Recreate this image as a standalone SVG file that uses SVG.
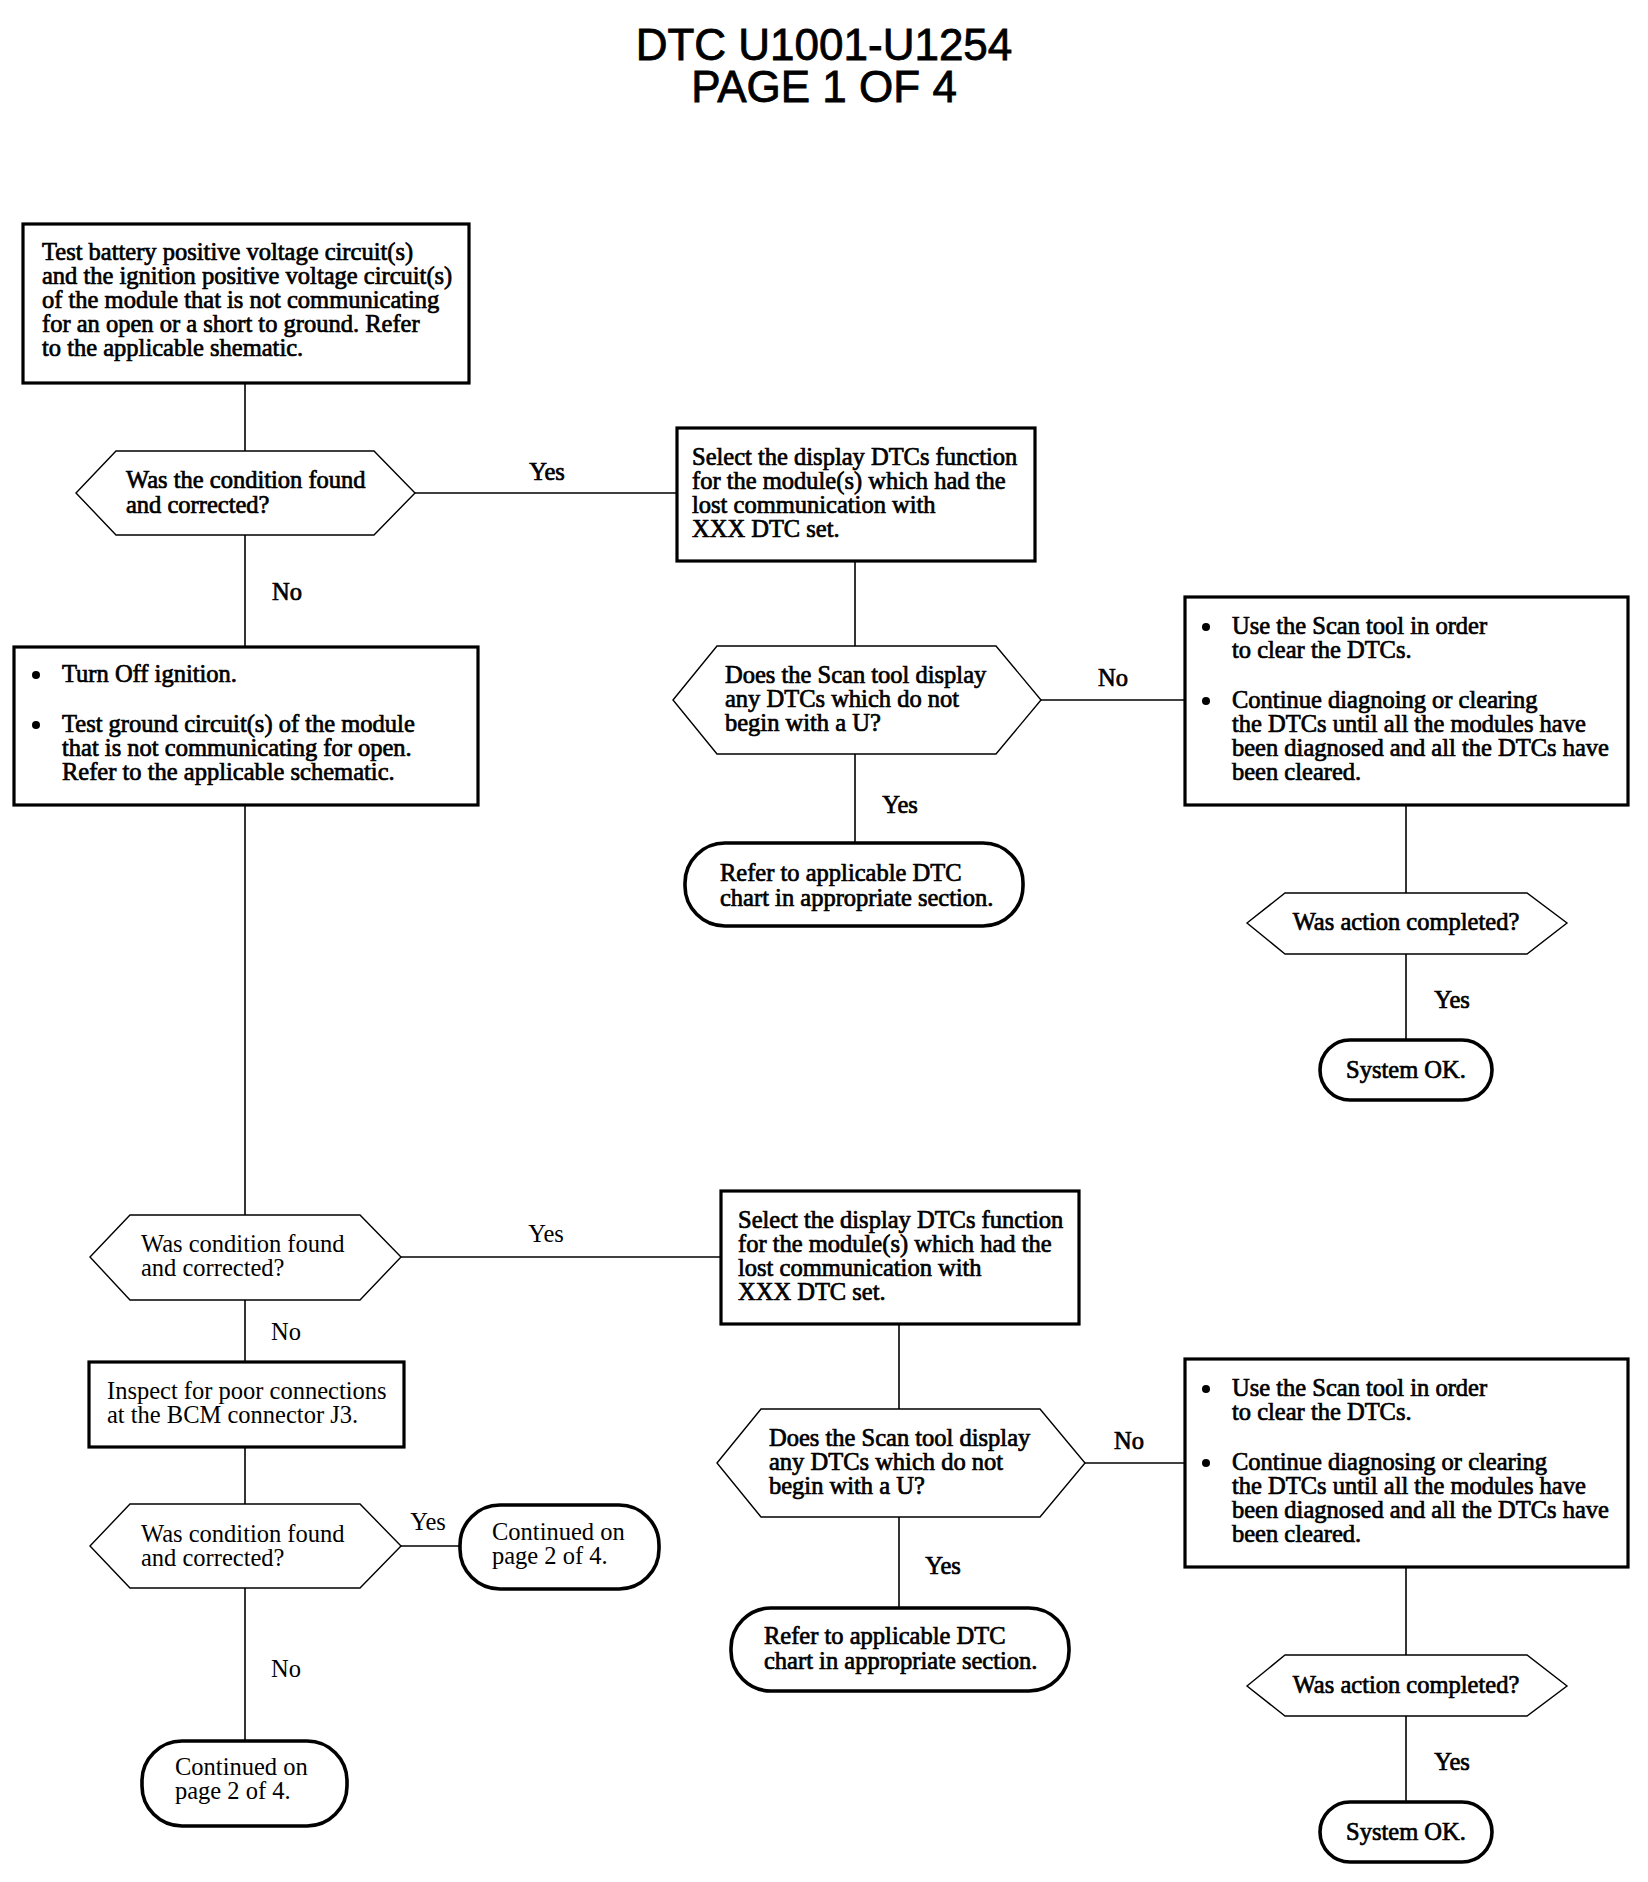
<svg xmlns="http://www.w3.org/2000/svg" width="1648" height="1882" viewBox="0 0 1648 1882">
<style>
  .bg { fill: #fff; }
  .box { fill: #fff; stroke: #000; stroke-width: 3.2; }
  .hex { fill: #fff; stroke: #000; stroke-width: 1.4; }
  .term { fill: #fff; stroke: #000; stroke-width: 3.6; }
  .conn { fill: none; stroke: #000; stroke-width: 1.6; }
  .t { font-family: "Liberation Serif", "Times New Roman", serif; font-size: 24.5px; fill: #000; }
  .h { stroke: #000; stroke-width: 0.7; }
  .c { text-anchor: middle; }
  .title { font-family: "Liberation Sans", Arial, sans-serif; font-size: 44px; fill: #000; stroke: #000; stroke-width: 0.8; text-anchor: middle; }
  .dot { fill: #000; }
</style>
<rect class="bg" x="0" y="0" width="1648" height="1882"/>

<g id="title">
  <text class="title" x="824" y="60">DTC U1001-U1254</text>
  <text class="title" x="824" y="102">PAGE 1 OF 4</text>
</g>

<g id="connectors">
  <line class="conn" x1="245" y1="384" x2="245" y2="451"/>
  <line class="conn" x1="245" y1="535" x2="245" y2="647"/>
  <line class="conn" x1="245" y1="805" x2="245" y2="1215"/>
  <line class="conn" x1="245" y1="1300" x2="245" y2="1362"/>
  <line class="conn" x1="245" y1="1447" x2="245" y2="1504"/>
  <line class="conn" x1="245" y1="1588" x2="245" y2="1743"/>
  <line class="conn" x1="415" y1="493" x2="677" y2="493"/>
  <line class="conn" x1="855" y1="561" x2="855" y2="646"/>
  <line class="conn" x1="855" y1="754" x2="855" y2="843"/>
  <line class="conn" x1="1041" y1="700" x2="1185" y2="700"/>
  <line class="conn" x1="1406" y1="805" x2="1406" y2="893"/>
  <line class="conn" x1="1406" y1="954" x2="1406" y2="1040"/>
  <line class="conn" x1="401" y1="1257" x2="721" y2="1257"/>
  <line class="conn" x1="899" y1="1324" x2="899" y2="1409"/>
  <line class="conn" x1="899" y1="1517" x2="899" y2="1608"/>
  <line class="conn" x1="1085" y1="1463" x2="1185" y2="1463"/>
  <line class="conn" x1="1406" y1="1567" x2="1406" y2="1655"/>
  <line class="conn" x1="1406" y1="1716" x2="1406" y2="1802"/>
  <line class="conn" x1="401" y1="1546" x2="460" y2="1546"/>
</g>

<g id="labels">
  <text class="t h c" x="547" y="480">Yes</text>
  <text class="t h c" x="287" y="600">No</text>
  <text class="t h c" x="1113" y="686">No</text>
  <text class="t h c" x="900" y="813">Yes</text>
  <text class="t h c" x="1452" y="1008">Yes</text>
  <text class="t c" x="546" y="1242">Yes</text>
  <text class="t c" x="286" y="1340">No</text>
  <text class="t c" x="428" y="1530">Yes</text>
  <text class="t c" x="286" y="1677">No</text>
  <text class="t h c" x="1129" y="1449">No</text>
  <text class="t h c" x="943" y="1574">Yes</text>
  <text class="t h c" x="1452" y="1770">Yes</text>
</g>

<g id="n1">
  <rect class="box" x="23" y="224" width="446" height="159"/>
  <text class="t h" x="42" y="260">Test battery positive voltage circuit(s)</text>
  <text class="t h" x="42" y="284">and the ignition positive voltage circuit(s)</text>
  <text class="t h" x="42" y="308">of the module that is not communicating</text>
  <text class="t h" x="42" y="332">for an open or a short to ground. Refer</text>
  <text class="t h" x="42" y="356">to the applicable shematic.</text>
</g>

<g id="d1">
  <polygon class="hex" points="76,493 116,451 374,451 415,493 374,535 116,535"/>
  <text class="t h" x="126" y="488">Was the condition found</text>
  <text class="t h" x="126" y="513">and corrected?</text>
</g>

<g id="n2">
  <rect class="box" x="677" y="428" width="358" height="133"/>
  <text class="t h" x="692" y="465">Select the display DTCs function</text>
  <text class="t h" x="692" y="489">for the module(s) which had the</text>
  <text class="t h" x="692" y="513">lost communication with</text>
  <text class="t h" x="692" y="537">XXX DTC set.</text>
</g>

<g id="d2">
  <polygon class="hex" points="673,700 717,646 996,646 1041,700 996,754 717,754"/>
  <text class="t h" x="725" y="683">Does the Scan tool display</text>
  <text class="t h" x="725" y="707">any DTCs which do not</text>
  <text class="t h" x="725" y="731">begin with a U?</text>
</g>

<g id="t1">
  <rect class="term" x="685" y="843" width="338" height="83" rx="40" ry="40"/>
  <text class="t h" x="720" y="881">Refer to applicable DTC</text>
  <text class="t h" x="720" y="906">chart in appropriate section.</text>
</g>

<g id="n3">
  <rect class="box" x="1185" y="597" width="443" height="208"/>
  <circle class="dot" cx="1206" cy="627" r="4"/>
  <text class="t h" x="1232" y="634">Use the Scan tool in order</text>
  <text class="t h" x="1232" y="658">to clear the DTCs.</text>
  <circle class="dot" cx="1206" cy="701" r="4"/>
  <text class="t h" x="1232" y="708">Continue diagnoing or clearing</text>
  <text class="t h" x="1232" y="732">the DTCs until all the modules have</text>
  <text class="t h" x="1232" y="756">been diagnosed and all the DTCs have</text>
  <text class="t h" x="1232" y="780">been cleared.</text>
</g>

<g id="d3">
  <polygon class="hex" points="1247,923 1285,893 1527,893 1567,923 1527,954 1285,954"/>
  <text class="t h c" x="1406" y="930">Was action completed?</text>
</g>

<g id="t2">
  <rect class="term" x="1320" y="1040" width="172" height="60" rx="30" ry="30"/>
  <text class="t h c" x="1406" y="1078">System OK.</text>
</g>

<g id="n4">
  <rect class="box" x="14" y="647" width="464" height="158"/>
  <circle class="dot" cx="36" cy="675" r="4"/>
  <text class="t h" x="62" y="682">Turn Off ignition.</text>
  <circle class="dot" cx="36" cy="725" r="4"/>
  <text class="t h" x="62" y="732">Test ground circuit(s) of the module</text>
  <text class="t h" x="62" y="756">that is not communicating for open.</text>
  <text class="t h" x="62" y="780">Refer to the applicable schematic.</text>
</g>

<g id="d4">
  <polygon class="hex" points="90,1257 130,1215 360,1215 401,1257 360,1300 130,1300"/>
  <text class="t" x="141" y="1252">Was condition found</text>
  <text class="t" x="141" y="1276">and corrected?</text>
</g>

<g id="n5">
  <rect class="box" x="721" y="1191" width="358" height="133"/>
  <text class="t h" x="738" y="1228">Select the display DTCs function</text>
  <text class="t h" x="738" y="1252">for the module(s) which had the</text>
  <text class="t h" x="738" y="1276">lost communication with</text>
  <text class="t h" x="738" y="1300">XXX DTC set.</text>
</g>

<g id="n6">
  <rect class="box" x="89" y="1362" width="315" height="85"/>
  <text class="t" x="107" y="1399">Inspect for poor connections</text>
  <text class="t" x="107" y="1423">at the BCM connector J3.</text>
</g>

<g id="d5">
  <polygon class="hex" points="90,1546 130,1504 360,1504 401,1546 360,1588 130,1588"/>
  <text class="t" x="141" y="1542">Was condition found</text>
  <text class="t" x="141" y="1566">and corrected?</text>
</g>

<g id="t3">
  <rect class="term" x="460" y="1505" width="199" height="84" rx="40" ry="40"/>
  <text class="t" x="492" y="1540">Continued on</text>
  <text class="t" x="492" y="1564">page 2 of 4.</text>
</g>

<g id="t4">
  <rect class="term" x="142" y="1741" width="205" height="85" rx="40" ry="40"/>
  <text class="t" x="175" y="1775">Continued on</text>
  <text class="t" x="175" y="1799">page 2 of 4.</text>
</g>

<g id="d6">
  <polygon class="hex" points="717,1463 761,1409 1040,1409 1085,1463 1040,1517 761,1517"/>
  <text class="t h" x="769" y="1446">Does the Scan tool display</text>
  <text class="t h" x="769" y="1470">any DTCs which do not</text>
  <text class="t h" x="769" y="1494">begin with a U?</text>
</g>

<g id="t5">
  <rect class="term" x="731" y="1608" width="338" height="83" rx="40" ry="40"/>
  <text class="t h" x="764" y="1644">Refer to applicable DTC</text>
  <text class="t h" x="764" y="1669">chart in appropriate section.</text>
</g>

<g id="n7">
  <rect class="box" x="1185" y="1359" width="443" height="208"/>
  <circle class="dot" cx="1206" cy="1389" r="4"/>
  <text class="t h" x="1232" y="1396">Use the Scan tool in order</text>
  <text class="t h" x="1232" y="1420">to clear the DTCs.</text>
  <circle class="dot" cx="1206" cy="1463" r="4"/>
  <text class="t h" x="1232" y="1470">Continue diagnosing or clearing</text>
  <text class="t h" x="1232" y="1494">the DTCs until all the modules have</text>
  <text class="t h" x="1232" y="1518">been diagnosed and all the DTCs have</text>
  <text class="t h" x="1232" y="1542">been cleared.</text>
</g>

<g id="d7">
  <polygon class="hex" points="1247,1686 1285,1655 1527,1655 1567,1686 1527,1716 1285,1716"/>
  <text class="t h c" x="1406" y="1693">Was action completed?</text>
</g>

<g id="t6">
  <rect class="term" x="1320" y="1802" width="172" height="60" rx="30" ry="30"/>
  <text class="t h c" x="1406" y="1840">System OK.</text>
</g>
</svg>
